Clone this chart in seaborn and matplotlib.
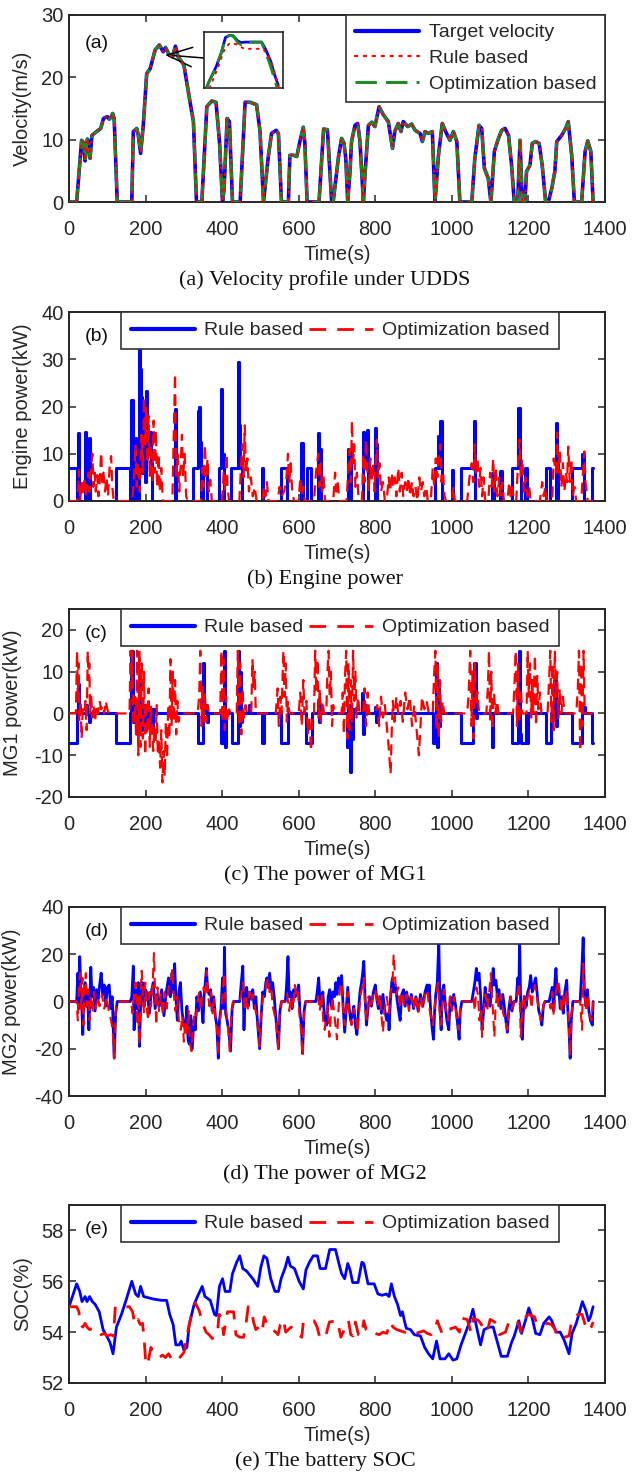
import numpy as np
import matplotlib
matplotlib.use("Agg")
import matplotlib.pyplot as plt
from matplotlib.lines import Line2D
import seaborn as sns

# ---------------- data (time s, value) ----------------
vel_target = [(0,0),(20,0),(33,9.9),(38,9.5),(42,6.6),(48,10.1),(52,9.5),(55,7.0),(60,10.7),(72,11.3),(83,11.8),(90,13.4),(100,13.7),(105,13.3),(110,13.6),(114,14.2),(118,13.4),(126,0),(164,0),(168,11.3),(177,11.8),(181,10.7),(187,7.8),(194,12.3),(203,20.6),(212,21.4),(225,24.4),(236,25.2),(246,24.1),(252,24.8),(262,23.6),(270,23.3),(278,25.0),(285,23.3),(300,22.0),(316,16.1),(325,12.9),(333,0),(347,0),(360,15.3),(373,16.2),(384,16.0),(393,9.7),(401,0),(405,2),(413,13.4),(419,12.9),(427,0),(447,0),(460,16.0),(473,16.0),(490,15.6),(499,11.3),(508,0),(521,7.5),(529,11.0),(541,11.5),(547,11.0),(555,0),(573,0),(577,7.5),(586,7.5),(595,7.3),(603,9.7),(612,12.0),(616,9.5),(622,0),(653,0),(665,11.7),(675,11.6),(686,0),(690,0),(704,7.3),(712,10.2),(718,9.5),(723,7.0),(728,0),(734,4.9),(738,9.7),(747,12.3),(754,12.6),(760,9.7),(769,0),(773,4.3),(782,12.3),(791,12.8),(799,12.1),(810,15.3),(821,14.0),(834,12.9),(845,8.6),(851,11.3),(860,12.6),(867,11.3),(873,12.9),(885,12.1),(895,12.5),(904,11.5),(917,11.0),(923,9.7),(930,11.3),(938,11.0),(949,11.3),(956,0),(965,7.5),(975,12.6),(986,11.0),(995,9.9),(1004,11.3),(1013,9.7),(1021,0),(1052,0),(1060,7.0),(1071,12.3),(1078,11.8),(1085,5.4),(1095,3.8),(1102,0),(1111,8.1),(1120,9.9),(1130,11.5),(1139,11.8),(1148,10.7),(1156,5.9),(1163,0),(1172,0),(1178,9.9),(1184,0),(1191,0),(1195,4.9),(1204,5.9),(1210,9.4),(1219,9.7),(1228,9.4),(1236,5.9),(1245,0),(1252,0),(1261,2.2),(1269,4.9),(1274,9.7),(1287,10.7),(1297,11.8),(1304,12.9),(1313,7.5),(1320,0),(1339,0),(1348,8.1),(1355,9.8),(1363,8.1),(1369,0)]
vel_rule = list(vel_target)
vel_opt = list(vel_target)

# zoomed inset around the first peak
inset_target = [(230.0,22.0),(231.4,22.49),(233.1,23.01),(234.4,23.44),(236.5,24.29),(238.2,25.24),(239.9,25.38),(241.6,25.35),(243.6,25.02),(245.0,24.92),(246.7,24.95),(251.4,24.95),(253.8,24.95),(255.2,24.59),(256.5,24.16),(257.9,23.66),(259.3,22.9),(261.0,22.18)]
inset_rule = [(231.4,22.0),(233.6,22.79),(235.8,23.66),(237.8,24.48),(240.0,24.88),(242.9,24.81),(246.3,24.52),(254.5,24.52),(256.5,24.09),(258.6,23.44),(261.3,22.0)]
inset_opt = [(230.0,22.0),(231.4,22.49),(233.1,23.01),(234.4,23.44),(236.5,24.29),(238.2,25.24),(239.9,25.38),(241.6,25.35),(243.6,24.9),(245.0,24.78),(246.7,24.95),(251.4,24.95),(253.8,24.95),(255.2,24.4),(256.5,23.9),(257.9,23.3),(259.3,22.6),(260.5,22.0)]

eng_rule = [(0,7),(20,0),(23,14.3),(26,0),(42,14.5),(45,0),(52,13.3),(55,0),(122,7),(160,0),(163,21.3),(166,0),(172,13.3),(175,0),(182,33),(185,28),(188,22),(191,6),(195,20),(198,4),(202,23.3),(205,10),(209,14.5),(213,8),(217,0),(276,19.5),(279,0),(325,7),(337,19),(340,20),(343,12.5),(346,0),(349,7),(360,0),(392,7),(396,23.7),(400,10),(404,0),(423,7),(441,29.5),(444,16),(447,7),(452,0),(503,7),(508,0),(554,7),(570,0),(607,12.3),(610,0),(621,7),(633,0),(651,14.3),(654,11),(657,0),(730,11),(733,10),(736,0),(768,14.5),(771,7),(778,15),(781,0),(799,15.5),(802,12),(805,0),(955,7),(963,13.8),(966,7),(970,17),(973,0),(1000,6.5),(1004,0),(1024,7),(1058,17),(1061,0),(1105,6),(1109,0),(1127,6.3),(1131,0),(1156,7),(1174,19.7),(1177,7),(1180,0),(1190,7),(1195,0),(1246,7),(1256,0),(1272,16.5),(1275,10),(1278,0),(1314,7),(1341,10),(1344,0),(1366,7),(1369,7)]
eng_opt = [(0,0),(22,0),(26,6.5),(29,0),(33,4),(36,1),(40,5),(43,1),(47,3),(51,6),(54,2),(58,7),(61,10),(64,3),(67,6),(70,2),(74,5.5),(77,1),(80,4),(84,10.3),(87,4),(90,6),(94,2),(98,5),(102,1),(106,7),(110,9.5),(113,3),(117,0),(165,0),(170,5),(174,12),(177,3),(181,8),(185,2),(189,14),(193,6),(196,22),(199,12),(202,20),(205,8),(208,18),(211,5),(214,12),(218,4),(221,17),(224,6),(227,15),(230,3),(234,10),(237,2),(241,7),(245,0),(270,0),(274,15),(277,27),(280,5),(284,10),(288,2),(292,8),(295,14),(298,5),(302,10),(306,1),(310,0),(345,0),(348,7),(351,3),(355,12),(358,5),(362,9),(365,2),(369,4.5),(373,0),(400,0),(404,6),(408,2),(411,10),(414,3),(418,0),(445,0),(449,7),(453,12),(456,5),(459,16),(462,6),(466,9),(470,2),(475,5),(480,1),(485,3),(490,0),(505,0),(509,3),(513,1),(517,4),(521,0),(545,0),(550,3),(555,1),(562,2),(568,5),(572,10),(575,4),(579,8),(583,2),(588,0),(600,0),(604,5),(608,1),(612,3),(616,0),(640,0),(645,6),(651,10),(654,3),(658,8),(661,2),(665,5),(669,0),(690,0),(695,6),(698,2),(702,4),(706,0),(725,0),(729,6),(733,11),(736,4),(739,17),(742,8),(745,12),(748,3),(752,6),(756,1),(760,0),(765,0),(769,10),(772,4),(776,13),(779,7),(783,2),(787,9),(790,4),(794,8),(798,2),(804,13),(807,5),(811,8),(815,2),(820,4),(825,0),(830,0),(835,5),(839,2),(843,6),(847,3),(851,5),(855,1),(860,7),(864,2),(869,6),(873,1),(878,4),(882,2),(887,5),(891,1),(896,4),(900,1),(905,3),(910,0),(915,5),(919,2),(924,4),(928,1),(933,3),(937,0),(945,0),(950,7),(954,3),(958,9),(962,5),(966,10),(970,12),(973,4),(977,6),(981,1),(985,0),(1000,0),(1004,3),(1008,0),(1040,0),(1046,5),(1052,8),(1056,4),(1060,12),(1063,6),(1067,9),(1071,3),(1075,7),(1079,1),(1083,5),(1087,0),(1095,0),(1100,6),(1104,3),(1108,9),(1111,2),(1115,7),(1119,1),(1124,5),(1128,1),(1132,4),(1136,0),(1145,0),(1150,4),(1154,1),(1158,3),(1162,0),(1168,0),(1173,8),(1177,13),(1180,5),(1184,9),(1188,2),(1193,5),(1197,1),(1202,3),(1206,0),(1230,0),(1236,4),(1240,1),(1244,3),(1248,0),(1262,0),(1266,9),(1272,6),(1275,14.5),(1278,6),(1282,11),(1286,3),(1290,8),(1294,2),(1298,6),(1301,4),(1304,11.5),(1308,4),(1312,9),(1316,1),(1320,3),(1325,0),(1338,0),(1343,7),(1346,10.5),(1349,4),(1352,2),(1355,0),(1369,0)]

mg1_rule = [(0,-7),(20,0),(24,7),(27,0),(45,2),(48,0),(52,-2),(55,0),(122,-7),(160,0),(163,15),(166,-2),(170,3),(174,-1),(178,-5),(182,7),(186,-4),(190,2),(195,-3),(199,2),(204,-2),(209,1),(214,-4),(219,1),(224,0),(337,-7),(349,12),(352,0),(356,2),(360,-2),(364,0),(398,-7),(404,15),(407,-8),(410,0),(427,-7),(441,15),(444,-3),(447,10),(450,-2),(453,0),(470,2),(473,0),(505,-7),(509,0),(554,-7),(572,0),(620,-7),(634,0),(650,3),(653,-2),(656,0),(727,-8),(730,2),(733,-14),(737,-6),(741,1),(745,0),(765,5),(768,-5),(771,2),(775,0),(800,1.5),(803,-2),(806,1),(809,0),(952,-7),(958,12),(961,-8),(964,6),(967,-3),(970,0),(1024,-7),(1056,0),(1059,12),(1062,-1),(1065,0),(1105,-8),(1108,0),(1156,-7),(1172,0),(1175,15),(1178,-5),(1181,-7),(1193,0),(1196,-7),(1200,0),(1246,-7),(1258,0),(1268,8),(1271,-3),(1274,3),(1277,0),(1314,-7),(1341,0),(1344,1.5),(1347,0),(1365,-7),(1369,-7)]
mg1_opt = [(0,0),(18,0),(21,15),(23,4),(25,12),(27,-2),(30,3),(33,-6),(36,1),(40,0),(43,3),(46,-4),(49,15),(51,8),(53,12),(55,0),(58,4),(61,-1),(64,2),(68,-2),(72,2),(76,0),(80,3),(84,1),(88,2),(92,0),(96,3),(100,1),(104,0),(110,0),(158,0),(161,15),(163,6),(165,15),(168,-3),(172,4),(175,-5),(178,15),(181,-10),(184,15),(187,-8),(190,12),(193,-6),(196,10),(199,-10),(202,3),(205,-5),(208,6),(211,-8),(214,2),(217,-4),(220,-9),(223,-3),(226,-7),(229,2),(232,-10),(235,-6),(238,-13),(241,-4),(244,-16.5),(247,-9),(250,-15),(253,-2),(256,-11),(259,2),(262,-6),(265,13),(268,-3),(271,10),(274,-2),(277,8),(280,-5),(283,3),(286,-2),(290,0),(336,0),(340,4),(343,15),(346,-3),(349,7),(352,-2),(355,5),(358,-2),(362,2),(366,0),(395,0),(398,15),(401,-2),(404,13),(407,-4),(410,4),(414,-2),(418,1),(422,0),(438,0),(441,15),(444,-3),(447,12),(450,-5),(453,6),(457,-1),(461,2),(465,0),(476,0),(479,13),(482,6),(485,10),(488,0),(540,0),(545,6),(548,-3),(552,4),(555,0),(560,15),(563,4),(566,12),(569,-2),(572,3),(576,0),(600,0),(604,5),(608,-3),(612,8),(615,0),(620,3),(624,-5),(628,-1),(632,-9),(636,0),(640,0),(643,15),(646,5),(649,13),(652,-1),(655,6),(658,-2),(662,3),(666,0),(672,0),(675,10),(678,15),(681,4),(684,10),(687,-3),(690,2),(694,0),(712,0),(715,5),(718,-5),(721,9),(724,15),(727,-6),(730,12),(733,-4),(736,8),(739,-2),(742,15),(745,3),(748,10),(751,-1),(755,4),(759,0),(768,0),(772,6),(776,-3),(780,5),(784,0),(800,0),(805,2),(810,-3),(815,4),(820,-1),(825,2),(830,-3),(835,-8),(840,-14.5),(843,-4),(846,3),(850,-2),(855,4),(860,0),(866,3),(872,-2),(878,5),(884,1),(890,4),(896,-3),(902,2),(908,-4),(914,-10),(918,-3),(922,4),(928,1),(934,3),(940,0),(950,0),(954,10),(957,15),(960,-4),(963,12),(966,-6),(969,8),(972,-2),(976,3),(980,0),(1040,0),(1044,5),(1048,15),(1051,-3),(1054,10),(1057,-6),(1060,12),(1063,2),(1067,5),(1071,0),(1090,0),(1094,6),(1097,15),(1100,-2),(1103,10),(1106,-4),(1110,5),(1114,0),(1118,3),(1122,0),(1160,0),(1164,8),(1167,15),(1170,-3),(1173,12),(1176,-2),(1180,6),(1184,0),(1195,0),(1198,15),(1201,4),(1204,12),(1207,-1),(1210,8),(1213,0),(1217,14),(1220,-3),(1223,9),(1226,1),(1230,5),(1234,0),(1250,0),(1254,8),(1257,15),(1260,-2),(1263,12),(1266,-4),(1269,15),(1272,3),(1275,10),(1278,-1),(1282,6),(1286,0),(1290,4),(1294,0),(1325,0),(1329,6),(1332,15),(1335,-9),(1338,12),(1341,-3),(1344,15),(1347,0),(1369,0)]

mg2_rule = [(0,0),(20,0),(23,12),(26,-3),(28,19),(31,5),(34,-5),(36,-14),(39,2),(42,8),(45,-2),(48,5),(52,-12),(55,3),(57,14.5),(60,2),(64,6),(68,-4),(72,5),(76,1),(80,7),(84,12),(88,3),(92,7),(96,-2),(100,6),(105,7),(109,-3),(113,2),(118,-24),(122,-5),(126,0),(160,0),(164,2),(168,15),(170,-12),(174,5),(178,-3),(181,8),(184,-19),(188,3),(192,8),(196,-2),(200,5),(205,3),(210,-5),(215,4),(220,8),(225,-3),(230,3),(236,-2),(242,5),(248,-6),(254,4),(260,10),(265,2),(269,12),(272,4),(276,16),(279,2),(283,-8),(287,4),(291,8),(295,-4),(300,-10),(304,-12),(308,-2),(311,-16),(314,-18),(318,-6),(322,-20),(326,-8),(330,-12),(334,2),(338,-4),(343,4),(347,-3),(350,-9),(353,3),(356,8),(359,14),(362,5),(366,3),(370,5),(374,-4),(378,2),(382,-6),(386,-10),(390,-24),(393,-8),(397,-3),(401,10),(404,-3),(406,23),(409,-5),(413,-8),(417,-12),(422,-21),(426,-3),(430,0),(446,0),(450,8),(454,15),(457,-12),(460,3),(464,6),(468,-2),(472,4),(476,1),(480,5),(484,-3),(488,2),(492,-8),(495,-14),(498,-20),(502,-6),(506,4),(510,2),(514,8),(517,10),(520,6),(524,12),(528,5),(532,8),(536,2),(540,-6),(543,-12),(547,-20),(551,-4),(555,0),(565,0),(568,6),(572,19),(575,2),(579,4),(583,-3),(587,5),(591,2),(595,4),(600,7),(603,-4),(607,-10),(610,-22),(614,-4),(618,0),(645,0),(649,5),(652,10),(655,2),(659,-2),(663,4),(667,-6),(670,-8),(673,-10),(677,2),(681,5),(685,-2),(689,4),(693,2),(697,8),(700,3),(704,10),(708,6),(712,11),(716,-2),(720,-13),(724,-4),(728,6),(732,-3),(736,-8),(740,-6),(744,-2),(748,-10),(752,-14),(756,-4),(760,4),(764,8),(767,12),(770,17),(773,3),(777,-10),(781,-3),(785,2),(790,-2),(795,4),(800,7),(804,1),(808,-3),(812,2),(816,-5),(820,3),(825,-4),(830,-8),(834,-5),(836,-12),(840,2),(843,8),(845,10),(848,4),(852,7),(856,2),(860,-3),(865,-8),(869,3),(874,5),(878,-2),(882,4),(888,-2),(894,3),(900,-3),(906,2),(912,-4),(918,3),(924,-2),(930,4),(935,7),(938,3),(941,7),(945,-5),(949,-12),(952,-16),(955,-4),(958,3),(962,8),(966,26),(969,-3),(972,-12),(975,4),(979,7),(983,-2),(987,-8),(992,-12),(996,2),(1000,-3),(1005,3),(1010,-2),(1014,-8),(1019,-16),(1022,-4),(1026,0),(1052,0),(1056,4),(1060,8),(1064,14),(1067,9),(1071,12),(1075,3),(1079,-12),(1083,-4),(1087,6),(1091,-2),(1095,3),(1100,-2),(1104,6),(1108,14),(1111,7),(1115,9),(1119,2),(1123,5),(1128,-3),(1133,3),(1137,-2),(1141,-8),(1145,-13),(1149,-3),(1153,2),(1157,-4),(1162,0),(1168,0),(1172,10),(1175,4),(1177,26),(1180,-3),(1184,-16),(1187,-4),(1190,2),(1194,-2),(1198,4),(1202,6),(1206,11),(1210,4),(1214,7),(1219,10),(1223,3),(1227,-4),(1231,-6),(1235,-10),(1239,-2),(1243,0),(1254,0),(1258,3),(1262,6),(1266,-4),(1269,8),(1272,14),(1275,3),(1279,6),(1283,-3),(1287,2),(1291,-5),(1295,4),(1300,9),(1303,-4),(1306,-12),(1309,-24),(1312,-8),(1316,0),(1335,0),(1339,12),(1343,27),(1346,4),(1350,-2),(1354,5),(1358,-4),(1362,-8),(1367,-10),(1369,0)]
mg2_opt = [(0,0),(20,0),(23,-8),(26,7),(29,12),(32,-3),(35,10),(38,-10),(41,4),(44,12),(47,-2),(50,5),(54,-8),(57,3),(61,-5),(65,4),(70,-3),(75,2),(80,-2),(86,3),(92,-3),(98,2),(104,-4),(110,-8),(114,-12),(118,-24),(121,-6),(125,0),(162,0),(166,-5),(170,3),(174,8),(178,-10),(181,3),(184,-18),(187,4),(190,13),(193,2),(196,-5),(199,8),(203,-3),(207,-8),(210,4),(214,-2),(218,6),(222,20.5),(225,3),(228,-10),(231,6),(235,-4),(240,3),(245,-6),(250,4),(255,-3),(260,6),(265,8),(270,14),(273,4),(278,-4),(283,2),(287,-8),(292,-12),(296,-6),(300,-17),(304,-8),(308,-14),(312,-4),(316,-18),(320,-21),(324,-10),(328,-4),(332,-6),(336,0),(340,4),(344,-4),(348,2),(352,6),(356,2),(360,13),(363,3),(367,-2),(371,4),(375,-5),(379,1),(383,-8),(387,-12),(390,-23),(393,-10),(397,-4),(401,3),(405,12),(408,2),(412,-6),(416,-12),(420,-21),(424,-6),(428,0),(446,0),(450,3),(455,8),(459,-4),(463,2),(467,-3),(471,4),(475,0),(480,3),(485,-2),(490,-6),(494,-12),(498,-19),(502,-4),(507,2),(512,4),(516,8),(520,10),(524,4),(528,6),(532,-2),(536,-5),(540,-8),(544,-14),(547,-20),(551,-3),(555,0),(565,0),(570,3),(575,-4),(580,2),(585,-3),(590,7),(594,2),(598,4),(602,-6),(606,-12),(610,-23),(614,-5),(618,0),(645,0),(650,2),(655,-4),(660,3),(664,-8),(668,-12),(672,-5),(676,-2),(680,-15),(684,-6),(688,2),(692,-4),(696,-10),(700,-16),(704,-3),(708,6),(712,8),(716,-3),(720,-10),(724,-2),(728,4),(732,-6),(738,-10),(744,-3),(750,-8),(754,-13),(758,-4),(762,3),(766,6),(770,10),(774,-4),(778,-8),(782,2),(788,-3),(794,3),(800,5),(806,-2),(812,3),(816,-6),(820,-13),(824,-4),(830,2),(836,-5),(840,4),(845,8),(848,20),(851,12),(855,3),(860,6),(865,-3),(870,4),(876,-2),(882,3),(888,-4),(894,2),(900,-3),(906,3),(912,-5),(918,2),(924,-3),(930,3),(936,5),(940,-2),(945,-6),(950,-10),(955,-3),(960,4),(964,8),(968,-4),(972,-10),(976,2),(980,5),(985,-3),(990,-8),(995,2),(1000,-4),(1006,2),(1012,-6),(1018,-12),(1022,-3),(1026,0),(1052,0),(1056,2),(1060,-4),(1064,6),(1068,3),(1072,-8),(1076,-3),(1079,-15),(1083,-4),(1088,3),(1093,-3),(1098,5),(1102,12),(1105,2),(1108,-6),(1111,-15),(1114,-3),(1118,4),(1122,-2),(1128,3),(1134,-5),(1140,-8),(1145,-12),(1149,-3),(1154,2),(1158,-3),(1162,0),(1168,0),(1172,4),(1176,8),(1180,-15),(1184,-6),(1188,3),(1192,-3),(1198,2),(1203,5),(1208,-3),(1212,4),(1217,7),(1222,2),(1227,-3),(1232,-8),(1236,-5),(1240,-1),(1243,0),(1254,0),(1258,-3),(1262,4),(1266,-6),(1270,2),(1274,6),(1278,9),(1282,3),(1286,-5),(1290,3),(1295,-2),(1300,5),(1304,-6),(1309,-23),(1312,-6),(1316,0),(1335,0),(1340,-12),(1343,16),(1346,6),(1350,-4),(1355,3),(1360,-6),(1365,-8),(1369,0)]

soc_rule = [(0,55.0),(20,55.9),(28,55.6),(34,55.2),(42,55.4),(47,55.2),(54,55.4),(61,55.2),(68,55.1),(79,54.8),(89,54.1),(100,53.8),(107,53.6),(115,53.15),(124,54.2),(137,54.7),(150,55.3),(164,56.0),(174,55.5),(181,55.4),(187,55.8),(195,55.4),(221,55.3),(242,55.25),(255,55.25),(263,54.7),(272,54.3),(279,53.5),(288,53.5),(293,53.65),(300,53.3),(308,53.4),(314,54.3),(327,55.1),(337,55.45),(348,55.8),(355,55.4),(369,55.25),(380,54.7),(385,54.65),(393,55.8),(401,56.1),(408,55.6),(420,55.6),(427,56.3),(438,56.75),(446,57.0),(454,56.5),(464,56.4),(480,56.1),(493,55.8),(501,56.55),(509,57.0),(517,56.9),(527,56.1),(538,55.6),(547,55.6),(554,56.1),(565,56.55),(572,56.95),(578,56.6),(589,56.5),(601,56.0),(612,55.7),(619,56.45),(628,56.75),(638,57.0),(649,57.0),(656,56.5),(670,56.5),(681,57.25),(696,57.25),(705,56.7),(712,56.3),(720,56.1),(728,56.7),(734,56.45),(741,55.95),(755,55.95),(765,56.75),(770,56.7),(781,55.9),(797,55.9),(807,55.5),(818,55.45),(829,55.5),(836,55.4),(842,55.9),(850,55.4),(858,55.1),(866,54.65),(871,54.8),(876,54.45),(881,54.15),(892,54.1),(902,53.9),(918,53.85),(929,53.4),(939,53.15),(950,52.95),(960,53.65),(969,52.95),(982,52.95),(992,53.15),(1003,52.9),(1013,52.95),(1024,53.5),(1034,53.9),(1045,54.35),(1055,54.9),(1066,54.1),(1075,53.5),(1084,54.1),(1098,54.2),(1108,54.2),(1119,53.6),(1129,53.05),(1145,53.05),(1156,53.6),(1163,53.85),(1175,54.45),(1182,53.95),(1193,54.5),(1201,54.95),(1209,54.6),(1219,53.95),(1230,53.9),(1240,54.35),(1254,54.6),(1261,54.45),(1272,54.0),(1283,54.0),(1293,53.7),(1306,53.15),(1314,53.95),(1325,54.35),(1341,55.2),(1351,54.8),(1357,54.45),(1362,54.6),(1369,55.0)]
soc_opt = [(0,55.0),(20,55.0),(26,54.8),(29,54.3),(36,54.2),(42,54.35),(47,54.2),(54,54.1),(61,54.15),(68,54.0),(76,54.0),(84,53.9),(92,53.95),(100,53.85),(110,53.9),(116,53.85),(121,55.0),(158,55.0),(166,54.8),(172,54.3),(180,54.5),(186,54.3),(192,54.35),(196,53.8),(200,52.9),(205,52.7),(210,53.1),(214,53.4),(220,53.2),(228,53.1),(236,53.0),(244,53.1),(252,53.0),(260,53.15),(268,52.95),(276,52.85),(284,52.9),(292,53.05),(300,53.2),(310,54.0),(320,54.7),(330,55.15),(340,54.85),(350,54.3),(358,54.0),(366,53.9),(374,53.75),(382,53.8),(388,54.0),(392,54.7),(398,54.6),(404,53.9),(408,54.3),(414,54.8),(430,54.8),(436,53.9),(446,53.8),(456,53.8),(462,54.3),(468,55.0),(476,54.9),(482,54.4),(488,54.1),(496,54.2),(504,54.0),(510,54.6),(520,54.2),(530,54.1),(540,54.0),(546,53.9),(552,54.3),(560,54.5),(566,54.0),(580,54.2),(590,54.1),(600,53.9),(608,53.8),(612,54.4),(628,54.45),(640,54.45),(648,54.2),(654,53.85),(660,53.75),(670,53.8),(680,54.4),(700,54.45),(706,54.1),(710,53.8),(716,54.0),(722,54.2),(730,54.45),(736,53.9),(742,53.85),(748,54.4),(756,53.9),(764,53.85),(770,54.45),(776,54.1),(782,54.0),(790,53.9),(800,53.95),(810,53.9),(820,54.0),(830,53.95),(840,54.4),(846,54.2),(856,54.1),(866,54.05),(876,54.0),(886,53.95),(896,54.0),(906,53.95),(916,54.0),(926,54.05),(936,53.95),(946,53.9),(956,54.1),(962,54.45),(968,54.2),(976,53.9),(990,54.1),(1010,54.2),(1020,54.0),(1026,54.55),(1040,54.5),(1050,54.0),(1056,54.55),(1070,54.45),(1082,54.2),(1092,54.0),(1100,54.5),(1112,54.4),(1124,53.9),(1140,54.0),(1150,54.45),(1160,54.5),(1172,54.4),(1180,54.0),(1186,54.55),(1194,54.6),(1200,54.7),(1216,54.6),(1222,54.3),(1240,54.3),(1250,54.35),(1260,54.3),(1270,54.1),(1276,53.8),(1286,53.75),(1294,53.8),(1306,53.85),(1312,54.35),(1320,54.6),(1330,54.7),(1340,54.7),(1348,54.3),(1356,54.05),(1364,54.2),(1369,54.4)]

x_ticks = [0, 200, 400, 600, 800, 1000, 1200, 1400]
panel_tags = ["(a)", "(b)", "(c)", "(d)", "(e)"]
y_labels = ["Velocity(m/s)", "Engine power(kW)", "MG1 power(kW)", "MG2 power(kW)", "SOC(%)"]
captions = ["(a) Velocity profile under UDDS", "(b) Engine power", "(c) The power of MG1",
            "(d) The power of MG2", "(e) The battery SOC"]
y_limits = [(0, 30), (0, 40), (-20, 25), (-40, 40), (52, 59)]
y_ticks = [[0, 10, 20, 30], [0, 10, 20, 30, 40], [-20, -10, 0, 10, 20],
           [-40, -20, 0, 20, 40], [52, 54, 56, 58]]
legend_a = ["Target velocity", "Rule based", "Optimization based"]
legend_other = ["Rule based", "Optimization based"]

# ---------------- style ----------------
sns.set_style("ticks")
plt.rcParams["font.family"] = ["Liberation Sans", "DejaVu Sans"]
plt.rcParams.update({
    "axes.unicode_minus": False,
    "xtick.direction": "in", "ytick.direction": "in",
    "xtick.top": True, "ytick.right": True,
    "axes.edgecolor": "#262626", "axes.linewidth": 1.4,
    "xtick.color": "#262626", "ytick.color": "#262626",
    "xtick.labelcolor": "#262626", "ytick.labelcolor": "#262626",
})

BLUE, RED, GREEN = "#0000ff", "#ff0000", "#1e8c1e"
FIG_W, FIG_H = 634, 1484
boxes = [(15, 202), (312, 501), (609, 797), (907, 1096), (1205, 1383)]
ylab_x = [-0.069, -0.069, -0.088, -0.090, -0.069]
tag_y = [0.85, 0.87, 0.87, 0.87, 0.86]

fig = plt.figure(figsize=(FIG_W / 100, FIG_H / 100), dpi=100)


def draw(ax, pairs, color, lw, dashes=None, steps=False, z=2, cap="butt"):
    arr = np.array(pairs, dtype=float)
    sns.lineplot(x=arr[:, 0], y=arr[:, 1], ax=ax, color=color, linewidth=lw,
                 estimator=None, sort=False, zorder=z,
                 drawstyle="steps-post" if steps else "default")
    ln = ax.lines[-1]
    if dashes is not None:
        ln.set_dashes(dashes)
    ln.set_dash_capstyle(cap)
    return ln


axes = []
for i, (top, bot) in enumerate(boxes):
    ax = fig.add_axes([69 / FIG_W, 1 - bot / FIG_H, 536 / FIG_W, (bot - top) / FIG_H])
    axes.append(ax)

# (a) velocity
ax = axes[0]
draw(ax, vel_target, BLUE, 2.6, z=2)
draw(ax, vel_opt, GREEN, 2.2, dashes=(7, 3), z=3)
draw(ax, vel_rule, RED, 1.4, dashes=(1, 3), z=4, cap="round")
ins = ax.inset_axes([0.252, 0.610, 0.147, 0.299])
draw(ins, inset_target, BLUE, 2.0, z=2)
draw(ins, inset_opt, GREEN, 2.0, dashes=(7, 3), z=3)
draw(ins, inset_rule, RED, 1.4, dashes=(1, 3), z=4, cap="round")
ins.set_xlim(229, 263)
ins.set_ylim(22.0, 25.6)
ins.set_xticks([]); ins.set_yticks([])
ins.set_xlabel(""); ins.set_ylabel("")
for s in ins.spines.values():
    s.set_linewidth(1.2); s.set_color("#262626")
ax.annotate("", xy=(250.7, 23.6), xycoords="data", xytext=(0.252, 0.77),
            textcoords="axes fraction",
            arrowprops=dict(arrowstyle="->,head_length=0.9,head_width=0.35",
                            color="black", lw=1.1, shrinkA=0, shrinkB=0,
                            mutation_scale=20))
h = [Line2D([], [], color=BLUE, lw=3),
     Line2D([], [], color=RED, lw=1.6, dashes=(1, 3), dash_capstyle="round"),
     Line2D([], [], color=GREEN, lw=2.2, dashes=(7, 3))]
leg = ax.legend(h, legend_a, loc="upper right", bbox_to_anchor=(1, 1), borderaxespad=0,
                fontsize=14, handlelength=3.3, handletextpad=0.5, labelspacing=0.42,
                fancybox=False, edgecolor="#333333", framealpha=1, borderpad=0.45)
leg.get_frame().set_linewidth(1.2)

# (b) engine
ax = axes[1]
draw(ax, eng_rule, BLUE, 2.2, steps=True, z=2)
draw(ax, eng_opt, RED, 1.6, dashes=(5, 3), z=3)
# (c) MG1
ax = axes[2]
draw(ax, mg1_rule, BLUE, 2.2, steps=True, z=2)
draw(ax, mg1_opt, RED, 1.6, dashes=(5, 3), z=3)
# (d) MG2
ax = axes[3]
draw(ax, mg2_rule, BLUE, 2.0, z=2)
draw(ax, mg2_opt, RED, 1.5, dashes=(5, 3), z=3)
# (e) SOC
ax = axes[4]
draw(ax, soc_rule, BLUE, 2.0, z=2)
draw(ax, soc_opt, RED, 2.0, dashes=(6, 4), z=3)

for i in range(1, 5):
    h = [Line2D([], [], color=BLUE, lw=3), Line2D([], [], color=RED, lw=2, dashes=(6, 4))]
    leg = axes[i].legend(h, legend_other, loc="upper left", bbox_to_anchor=(0.097, 1.0),
                         borderaxespad=0, ncol=2, fontsize=14, handlelength=3.3,
                         handletextpad=0.45, columnspacing=0.3, fancybox=False,
                         edgecolor="#333333", framealpha=1, borderpad=0.5)
    leg.get_frame().set_linewidth(1.2)

for i, ax in enumerate(axes):
    ax.set_xlim(0, 1400)
    ax.set_xticks(x_ticks)
    ax.set_ylim(*y_limits[i])
    ax.set_yticks(y_ticks[i])
    ax.tick_params(axis="both", which="both", length=5, width=1.1, labelsize=14.5)
    ax.tick_params(axis="x", pad=13)
    ax.tick_params(axis="y", pad=4)
    ax.set_xlabel("Time(s)", fontsize=14.5, labelpad=4, color="#262626")
    ax.set_ylabel(y_labels[i], fontsize=14.5, color="#262626")
    ax.yaxis.set_label_coords(ylab_x[i], 0.5)
    ax.text(0.03, tag_y[i], panel_tags[i], transform=ax.transAxes, fontsize=14,
            va="center", ha="left", color="#111111")
    bot = boxes[i][1]
    fig.text(325 / FIG_W, 1 - (bot + 78) / FIG_H, captions[i],
             family=["Liberation Serif", "DejaVu Serif"], fontsize=16,
             ha="center", va="center", color="#111111")

fig.savefig("out.png", dpi=100)
